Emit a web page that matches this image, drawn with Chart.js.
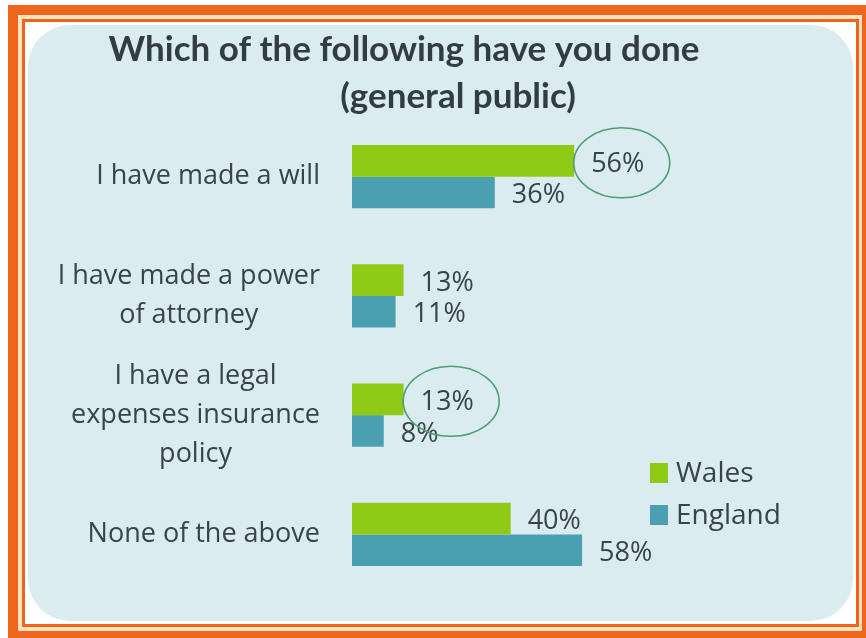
<!DOCTYPE html>
<html><head><meta charset="utf-8">
<script src="https://cdn.jsdelivr.net/npm/chart.js@4.4.0/dist/chart.umd.min.js"></script>
<style>
html,body{margin:0;padding:0;background:#fff;width:866px;height:638px;overflow:hidden}
#frame{position:absolute;left:8px;top:5px;width:858px;height:633px;box-sizing:border-box;
 border-style:solid;border-color:#f0651c;border-width:10px 4px 7px 10px;background:#fbe2c0;padding:4px 3px 4px 4px}
#inner{width:100%;height:100%;box-sizing:border-box;border:3px solid #f0651c;background:#fff;padding:3px}
#panel{width:100%;height:100%;background:#daecf0;border-radius:42px}
canvas{position:absolute;left:0;top:0}
</style></head>
<body>
<div id="frame"><div id="inner"><div id="panel"></div></div></div>
<canvas id="c" width="866" height="638"></canvas>
<script>
const titleLines = ["Which of the following have you done", "(general public)"];
const categories = [["I have made a will"], ["I have made a power", "of attorney"], ["I have a legal", "expenses insurance", "policy"], ["None of the above"]];
const seriesNames = ["Wales", "England"];
const wales = [56, 13, 13, 40];
const england = [36, 11, 8, 58];
const circled = [[0, 0], [0, 2]]; // [datasetIndex, categoryIndex]

const GREEN = '#8fcb16', TEAL = '#4aa0b0', TEXT = '#3a424a';
const FONT = '"Open Sans", "Liberation Sans", sans-serif';

const overlay = {
  id: 'overlay',
  afterDatasetsDraw(chart) {
    const ctx = chart.ctx;
    const y = chart.scales.y;
    ctx.save();
    // title
    ctx.fillStyle = '#333c43';
    ctx.font = 'bold 35px Lato, "Open Sans", sans-serif';
    ctx.textAlign = 'center'; ctx.textBaseline = 'middle';
    ctx.fillText(titleLines[0], 404, 50);
    ctx.fillText(titleLines[1], 458, 97);
    // category labels: block right-aligned, lines centred in block
    ctx.font = '27px ' + FONT;
    ctx.fillStyle = TEXT;
    categories.forEach((lines, i) => {
      const cy = y.getPixelForValue(i);
      const lh = 39;
      const maxW = Math.max(...lines.map(t => ctx.measureText(t).width));
      const cx = 320 - maxW / 2;
      lines.forEach((t, k) => {
        ctx.fillText(t, cx, cy + (k - (lines.length - 1) / 2) * lh);
      });
    });
    // value labels
    ctx.textAlign = 'left';
    const labelPos = {};
    chart.data.datasets.forEach((ds, di) => {
      chart.getDatasetMeta(di).data.forEach((bar, i) => {
        const t = ds.data[i] + '%';
        const lx = bar.x + 17, ly = bar.y + 3;
        ctx.fillText(t, lx, ly);
        labelPos[di + '_' + i] = {x: lx + ctx.measureText(t).width / 2, y: ly};
      });
    });
    // ellipses
    ctx.strokeStyle = '#4f9d72'; ctx.lineWidth = 1.6;
    circled.forEach(([di, i]) => {
      const p = labelPos[di + '_' + i];
      ctx.beginPath();
      ctx.ellipse(p.x + 4, p.y - 1, 48, 35, 0, 0, Math.PI * 2);
      ctx.stroke();
    });
    // legend
    ctx.font = '28px ' + FONT;
    chart.data.datasets.forEach((ds, di) => {
      const ly = 473 + di * 42;
      ctx.fillStyle = ds.backgroundColor;
      ctx.fillRect(650, ly - 10, 18, 20);
      ctx.fillStyle = TEXT;
      ctx.fillText(ds.label, 676, ly + 1);
    });
    ctx.restore();
  }
};

new Chart(document.getElementById('c'), {
  type: 'bar',
  data: {
    labels: categories,
    datasets: [
      {label: seriesNames[0], data: wales, backgroundColor: GREEN},
      {label: seriesNames[1], data: england, backgroundColor: TEAL}
    ]
  },
  options: {
    indexAxis: 'y',
    responsive: false,
    animation: false,
    devicePixelRatio: 1,
    categoryPercentage: 0.53,
    barPercentage: 1.0,
    layout: {padding: {left: 352, right: 866 - 590, top: 117, bottom: 44}},
    plugins: {legend: {display: false}, title: {display: false}, tooltip: {enabled: false}},
    scales: {
      x: {display: false, min: 0, max: 60},
      y: {display: false}
    }
  },
  plugins: [overlay]
});
</script>
</body></html>
